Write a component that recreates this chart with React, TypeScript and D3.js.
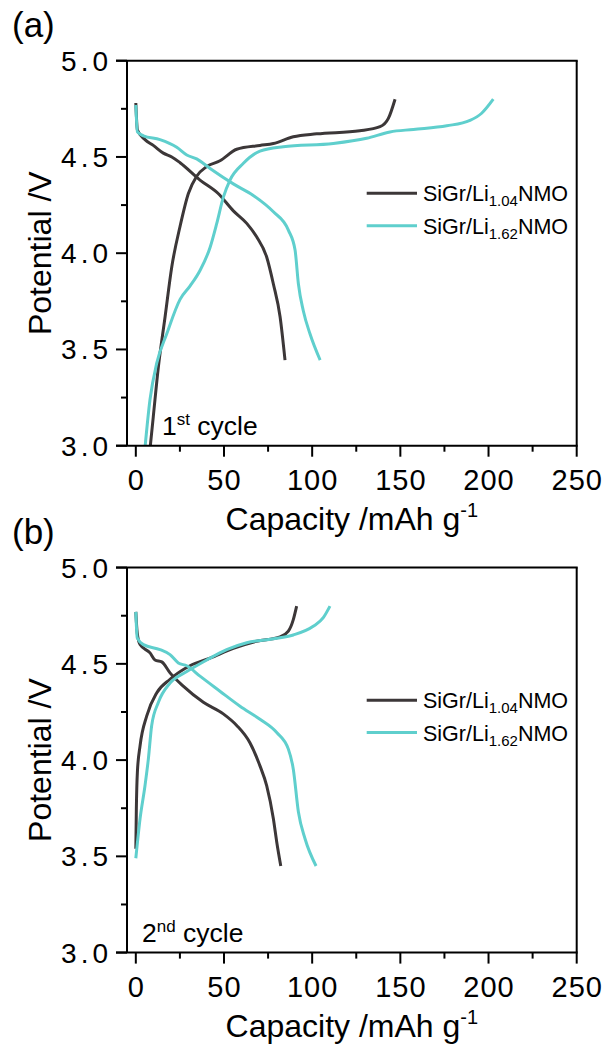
import React from "react";
import * as d3 from "d3";

// Capacity (mAh/g) vs potential (V) pairs
const c1Li104Discharge: [number, number][] = [[0,4.78],[0.9,4.64],[5.2,4.59],[9.9,4.56],[15.6,4.52],[20.4,4.50],[25.1,4.47],[36.4,4.38],[46.7,4.31],[55.3,4.22],[62.9,4.155],[68.5,4.085],[74.2,3.98],[78,3.84],[81.8,3.67],[84.6,3.445]];
const c1Li104Charge: [number, number][] = [[7.9,2.97],[9.9,3.15],[12.8,3.41],[16.6,3.67],[20.4,3.93],[25.1,4.14],[29.8,4.31],[34.5,4.40],[40.2,4.45],[47.7,4.48],[57.2,4.54],[70.4,4.56],[78,4.57],[89.3,4.605],[102.6,4.62],[127,4.636],[138.5,4.657],[143.2,4.70],[147,4.80]];
const c1Li162Discharge: [number, number][] = [[0,4.77],[0.9,4.63],[4.3,4.61],[13.7,4.59],[23.2,4.55],[28.9,4.51],[34.5,4.49],[42.1,4.44],[55.3,4.36],[66.6,4.30],[78,4.215],[86.5,4.12],[90.3,4.016],[92.2,3.84],[95,3.70],[98.8,3.58],[104.5,3.445]];
const c1Li162Charge: [number, number][] = [[5.0,2.97],[8.05,3.24],[11.9,3.43],[17.5,3.58],[25.1,3.76],[30.8,3.83],[36.4,3.91],[42.1,4.03],[45.9,4.155],[49.6,4.29],[53.4,4.38],[61,4.467],[70.4,4.53],[83.6,4.553],[112,4.57],[130.9,4.597],[144.1,4.63],[157.4,4.643],[176.3,4.662],[189.5,4.69],[196.1,4.727],[202.7,4.80]];

const c2Li104Discharge: [number, number][] = [[0,4.77],[0.8,4.66],[2.4,4.60],[8.05,4.557],[10.9,4.52],[14.7,4.51],[19.4,4.453],[26.9,4.384],[38.3,4.30],[49.6,4.24],[57.2,4.18],[64.7,4.09],[70.4,3.97],[74.2,3.867],[78,3.695],[79.9,3.575],[82.2,3.45]];
const c2Li104Charge: [number, number][] = [[0,3.54],[0.3,3.745],[0.9,3.94],[2.4,4.074],[6.2,4.23],[11.9,4.35],[19.4,4.42],[30.7,4.49],[42.1,4.53],[55.3,4.58],[68.5,4.617],[81.8,4.64],[86.5,4.67],[89.3,4.73],[91.2,4.80]];
const c2Li162Discharge: [number, number][] = [[0,4.77],[0.8,4.635],[4.3,4.60],[13.7,4.574],[19.4,4.548],[24.1,4.505],[28.9,4.49],[36.4,4.436],[47.7,4.358],[59.1,4.28],[70.4,4.212],[79.9,4.143],[86.5,4.057],[89.3,3.953],[92.2,3.73],[96,3.59],[102.2,3.45]];
const c2Li162Charge: [number, number][] = [[0,3.49],[2.4,3.695],[5.2,3.867],[7.1,4.005],[9.0,4.18],[12.8,4.30],[19.4,4.40],[28.9,4.46],[40.2,4.52],[51.5,4.574],[62.9,4.61],[78,4.63],[89.3,4.65],[100.6,4.695],[106.3,4.74],[110.1,4.80]];

const xMajorTicks = [0, 50, 100, 150, 200, 250];
const xMinorTicks = [25, 75, 125, 175, 225];
const yMajorTicks = [3.0, 3.5, 4.0, 4.5, 5.0];
const yMinorTicks = [3.25, 3.75, 4.25, 4.75];
const seriesNames = ["1.04", "1.62"];
const panelLabels = ["(a)", "(b)"];
const cycleLabels = [["1", "st"], ["2", "nd"]];

const DARK = "#3c3738";
const CYAN = "#5fcfcd";
const FONT = "Arial, 'Liberation Sans', sans-serif";

const panels = [
  { curves: [c1Li104Discharge, c1Li104Charge, c1Li162Discharge, c1Li162Charge] },
  { curves: [c2Li104Discharge, c2Li104Charge, c2Li162Discharge, c2Li162Charge] },
];

function Panel({ idx, top }: { idx: number; top: number }) {
  const left = 127;
  const right = 576.7;
  const height = 385;
  const bottom = top + height;
  const x = d3.scaleLinear().domain([-5, 250]).range([left, right]);
  const y = d3.scaleLinear().domain([3, 5]).range([bottom, top]);
  const line = d3
    .line<[number, number]>()
    .x((d) => x(d[0]))
    .y((d) => y(d[1]))
    .curve(d3.curveMonotoneX);
  const colors = [DARK, DARK, CYAN, CYAN];
  const clipId = `clip${idx}`;
  const cx = (left + right) / 2;
  const cy = (top + bottom) / 2;
  const legY = [top + 132.6, top + 165];
  return (
    <g>
      <defs>
        <clipPath id={clipId}>
          <rect x={left} y={top} width={right - left} height={height} />
        </clipPath>
      </defs>
      <text x={12} y={top - 24} fontSize={35} fontFamily={FONT} fill="#000">
        {panelLabels[idx]}
      </text>
      <g clipPath={`url(#${clipId})`}>
        {panels[idx].curves.map((c, i) => (
          <path key={i} d={line(c) || ""} fill="none" stroke={colors[i]} strokeWidth={3} strokeLinejoin="round" strokeLinecap="butt" />
        ))}
      </g>
      {/* frame */}
      <line x1={left} x2={left} y1={top} y2={bottom} stroke="#000" strokeWidth={2} />
      <line x1={left - 11} x2={right + 1} y1={bottom} y2={bottom} stroke="#000" strokeWidth={2} />
      <line x1={left - 11} x2={right + 1} y1={top} y2={top} stroke="#000" strokeWidth={2} />
      <line x1={right} x2={right} y1={top} y2={bottom} stroke="#000" strokeWidth={2} />
      {yMajorTicks.map((t) => (
        <g key={t}>
          <line x1={left - 11} x2={left} y1={y(t)} y2={y(t)} stroke="#000" strokeWidth={2} />
          <text x={112} y={y(t) + 10} textAnchor="end" fontSize={28} letterSpacing={4} fontFamily={FONT} fill="#000">
            {t.toFixed(1)}
          </text>
        </g>
      ))}
      {yMinorTicks.map((t) => (
        <line key={t} x1={left - 6} x2={left} y1={y(t)} y2={y(t)} stroke="#000" strokeWidth={2} />
      ))}
      {xMajorTicks.map((t) => (
        <g key={t}>
          <line x1={x(t)} x2={x(t)} y1={bottom} y2={bottom + 11} stroke="#000" strokeWidth={2} />
          <text x={x(t) + 0.5} y={bottom + 44} textAnchor="middle" fontSize={29} letterSpacing={1} fontFamily={FONT} fill="#000">
            {t}
          </text>
        </g>
      ))}
      {xMinorTicks.map((t) => (
        <line key={t} x1={x(t)} x2={x(t)} y1={bottom} y2={bottom + 6} stroke="#000" strokeWidth={2} />
      ))}
      <text x={cx} y={bottom + 84} textAnchor="middle" fontSize={32} fontFamily={FONT} fill="#000">
        Capacity /mAh g<tspan dy={-13} fontSize={20}>-1</tspan>
      </text>
      <text transform={`translate(51,${cy}) rotate(-90)`} textAnchor="middle" fontSize={32} fontFamily={FONT} fill="#000">
        Potential /V
      </text>
      {seriesNames.map((s, i) => (
        <g key={s}>
          <line x1={366.7} x2={417} y1={legY[i]} y2={legY[i]} stroke={i === 0 ? DARK : CYAN} strokeWidth={3} />
          <text x={423} y={legY[i] + 8} fontSize={21.5} fontFamily={FONT} fill="#000">
            SiGr/Li<tspan dy={5} fontSize={15}>{s}</tspan>
            <tspan dy={-5}>NMO</tspan>
          </text>
        </g>
      ))}
      <text x={idx === 0 ? 162 : 142} y={bottom - 11} fontSize={26.5} fontFamily={FONT} fill="#000">
        {cycleLabels[idx][0]}
        <tspan dy={-10} fontSize={17}>{cycleLabels[idx][1]}</tspan>
        <tspan dy={10}> cycle</tspan>
      </text>
    </g>
  );
}

export default function App() {
  return (
    <svg width={604} height={1049} style={{ position: "absolute", left: 0, top: 0, background: "#fff" }}>
      <rect width={604} height={1049} fill="#fff" />
      <Panel idx={0} top={60.7} />
      <Panel idx={1} top={567.6} />
    </svg>
  );
}
